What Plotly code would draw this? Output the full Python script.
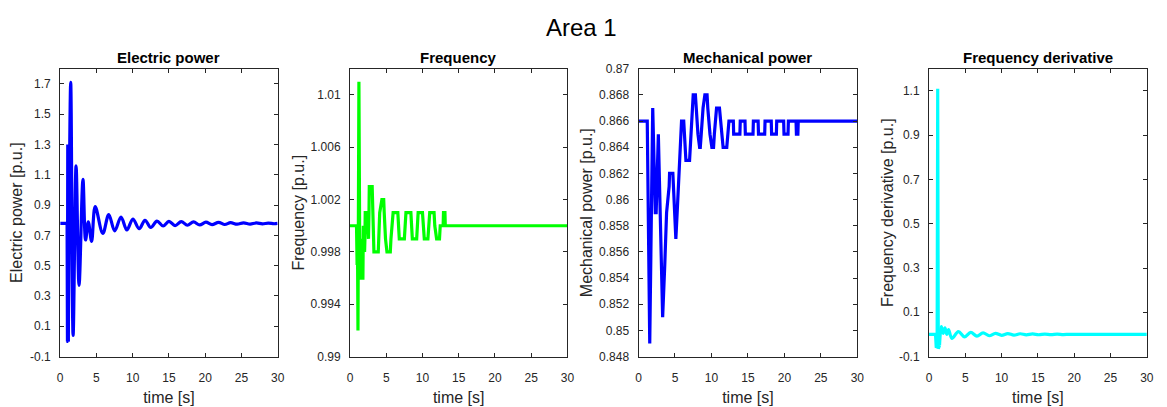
import plotly.graph_objects as go

# ---- simulation traces (time in seconds, values in p.u.) ----
ep_t = [0, 0.95, 1.0, 1.04, 1.08, 1.12,
        1.45, 1.78, 2.19, 2.6, 3.14, 3.5, 3.87, 4.33, 4.83, 5.88, 6.7, 7.52,
        8.39, 9.2, 10.03, 10.9, 11.7, 12.5, 13.35, 14.2, 15.0, 15.85, 16.7,
        17.55, 18.4, 19.25, 20.1, 20.95, 21.85, 22.7, 23.5, 24.4, 25.3, 26.2,
        27.05, 27.9, 28.7, 29.5, 30]
ep_p = [0.78, 0.78, 0.0, 1.30, 0.0, 0.0,
        1.71, 0.04, 1.16, 0.37, 1.07, 0.67, 0.79, 0.66, 0.89, 0.713, 0.838, 0.73,
        0.821, 0.736, 0.808, 0.744, 0.800, 0.752, 0.794, 0.762, 0.793, 0.765, 0.791,
        0.767, 0.789, 0.769, 0.787, 0.771, 0.786, 0.772, 0.784, 0.774, 0.783, 0.775,
        0.782, 0.776, 0.781, 0.777, 0.779]

fr_t = [0, 0.9, 0.98, 1.02, 1.1, 1.23, 1.36, 1.42, 1.48, 1.78, 1.84, 1.92, 2.01,
        2.06, 2.1, 2.37, 2.45, 2.55, 2.62, 2.66, 3.06, 3.12, 3.16, 3.2, 3.24, 3.3,
        3.9, 3.96, 4.02, 4.1, 4.4, 4.65, 4.72, 4.8, 4.9, 5.1, 5.56, 5.65, 5.8, 5.95,
        6.6, 6.7, 6.8, 7.5, 7.6, 7.72, 8.4, 8.5, 8.6, 9.2, 9.3, 9.4, 10.0, 10.1,
        10.25, 10.75, 10.85, 11.0, 11.6, 11.7, 11.95, 12.35, 12.45, 12.85, 12.9,
        13.1, 13.15, 30]
fr_v = [1.0, 1.0, 0.997, 1.0, 0.992, 1.011, 0.996, 0.999, 0.996, 0.996, 1.0, 0.998, 0.998,
        0.999, 1.001, 1.001, 0.999, 0.999, 1.001, 1.003, 1.003, 1.002, 1.001, 1.0, 0.999, 0.998,
        0.998, 0.999, 1.0, 1.001, 1.002, 1.002, 1.001, 1.0, 0.999, 0.998, 0.998, 0.999, 1.0, 1.001,
        1.001, 1.0, 0.999, 0.999, 1.0, 1.001, 1.001, 1.0, 0.999, 0.999, 1.0, 1.001, 1.001, 1.0,
        0.999, 0.999, 1.0, 1.001, 1.001, 1.0, 0.999, 0.999, 1.0, 1.0, 1.001,
        1.001, 1.0, 1.0]

mp_t = [0, 1.2, 1.54, 1.95, 2.3, 2.42, 2.72, 3.31, 3.6, 3.85, 4.2, 4.26, 4.71, 4.8,
        4.95, 5.05, 5.12, 5.3, 5.45, 5.6, 5.75, 5.9, 6.2, 6.3, 6.4, 6.5, 7.0, 7.1,
        7.2, 7.3, 7.4, 7.5, 7.8, 7.9, 8.0, 8.15, 8.38, 8.47, 8.6, 8.7, 8.85, 9.1,
        9.4, 9.5, 9.65, 9.8, 10.06, 10.29, 10.4, 10.55, 10.7, 11.1, 11.25, 11.4, 11.6,
        12.1, 12.2, 12.4, 13.0, 13.05, 13.9, 13.95, 14.6, 14.65, 15.7, 15.75, 16.4,
        16.45, 17.3, 17.35, 18.2, 18.25, 18.9, 18.95, 19.9, 19.95, 20.5, 20.55, 21.6,
        21.65, 21.85, 21.9, 30]
mp_v = [0.866, 0.866, 0.849, 0.867, 0.859, 0.859, 0.865, 0.851, 0.855, 0.859, 0.861, 0.862, 0.862, 0.861,
        0.859, 0.858, 0.857, 0.859, 0.861, 0.863, 0.865, 0.866, 0.866, 0.865, 0.864, 0.863, 0.863, 0.864,
        0.865, 0.866, 0.867, 0.868, 0.868, 0.867, 0.866, 0.865, 0.864, 0.864, 0.865, 0.866, 0.867, 0.868,
        0.868, 0.867, 0.866, 0.865, 0.864, 0.864, 0.865, 0.866, 0.867, 0.867, 0.866, 0.865, 0.864,
        0.864, 0.865, 0.866, 0.866, 0.865, 0.865, 0.866, 0.866, 0.865, 0.865, 0.866, 0.866,
        0.865, 0.865, 0.866, 0.866, 0.865, 0.865, 0.866, 0.866, 0.865, 0.865, 0.866, 0.866,
        0.865, 0.865, 0.866, 0.866]

fd_t = [0, 0.9, 1.0, 1.12, 1.2, 1.28, 1.45,
        1.7, 1.95, 2.2, 2.45, 2.7, 3.15, 4.05, 4.9, 5.75, 6.6, 7.45, 8.3, 9.15,
        10.0, 10.85, 11.7, 12.55, 13.4, 14.25, 15.1, 15.95, 16.8, 17.65, 18.5,
        19.35, 20.2, 30]
fd_v = [0.0, 0.0, -0.06, -0.055, 1.11, -0.065, -0.05,
        0.035, 0.005, 0.03, 0.0, 0.022, -0.018, 0.013, -0.011, 0.009, -0.008, 0.007, -0.006, 0.005,
        -0.004, 0.004, -0.003, 0.003, -0.002, 0.002, -0.0015, 0.0015, -0.001, 0.001, -0.0008,
        0.0006, 0.0, 0.0]

titles = ["Electric power", "Frequency", "Mechanical power", "Frequency derivative"]
ylabels = ["Electric power [p.u.]", "Frequency [p.u.]", "Mechanical power [p.u.]",
           "Frequency derivative [p.u.]"]
x_ticks = [0, 5, 10, 15, 20, 25, 30]
ep_ticks = [-0.1, 0.1, 0.3, 0.5, 0.7, 0.9, 1.1, 1.3, 1.5, 1.7]
fr_ticks = [0.99, 0.994, 0.998, 1.002, 1.006, 1.01]
mp_ticks = [0.848, 0.85, 0.852, 0.854, 0.856, 0.858, 0.86, 0.862, 0.864, 0.866, 0.868, 0.87]
fd_ticks = [-0.1, 0.1, 0.3, 0.5, 0.7, 0.9, 1.1]

W, H = 1167, 407
FONT = "Liberation Sans, Arial, Helvetica, sans-serif"
TXT = "#262626"
LW = 3.2

fig = go.Figure()

def add(idx, t, v, color, smooth_from=None):
    xa = "x" if idx == 1 else f"x{idx}"
    ya = "y" if idx == 1 else f"y{idx}"
    if smooth_from is None:
        fig.add_trace(go.Scatter(x=t, y=v, mode="lines", xaxis=xa, yaxis=ya,
                                 line=dict(color=color, width=LW),
                                 showlegend=False, hoverinfo="skip"))
    else:
        k = smooth_from
        fig.add_trace(go.Scatter(x=t[:k + 1], y=v[:k + 1], mode="lines", xaxis=xa, yaxis=ya,
                                 line=dict(color=color, width=LW), showlegend=False,
                                 hoverinfo="skip"))
        fig.add_trace(go.Scatter(x=t[k:], y=v[k:], mode="lines", xaxis=xa, yaxis=ya,
                                 line=dict(color=color, width=LW, shape="spline", smoothing=1.0),
                                 showlegend=False, hoverinfo="skip"))

add(1, ep_t, ep_p, "#0000FF", smooth_from=5)
add(2, fr_t, fr_v, "#00FF00")
add(3, mp_t, mp_v, "#0000FF")
add(4, fd_t, fd_v, "#00FFFF", smooth_from=6)

# axes frames in pixels
x_px = [(57.7, 277.0), (350.0, 569.3), (641.0, 861.7), (934.0, 1153.7)]
y_top, y_bot = 64.0, 362.0
y_ranges = [[-0.1, 1.8], [0.99, 1.012], [0.848, 0.87], [-0.1, 1.2]]
y_ticks = [ep_ticks, fr_ticks, mp_ticks, fd_ticks]
y_standoff = [3, 1, 2, 1]

common = dict(showline=True, linecolor=TXT, linewidth=1, mirror="allticks",
              ticks="inside", ticklen=4, tickwidth=1, tickcolor=TXT,
              showgrid=False, zeroline=False,
              tickfont=dict(family=FONT, size=12, color=TXT))

layout = dict(width=W, height=H, margin=dict(l=0, r=0, t=0, b=0),
              paper_bgcolor="white", plot_bgcolor="white", showlegend=False)

for i in range(4):
    sfx = "" if i == 0 else str(i + 1)
    x0, x1 = x_px[i]
    layout["xaxis" + sfx] = dict(common, domain=[x0 / W, x1 / W], range=[0, 30],
                                  tickvals=x_ticks, anchor="y" + sfx, ticklabelstandoff=10,
                                  title=dict(text="time [s]", standoff=7,
                                             font=dict(family=FONT, size=16, color=TXT)))
    layout["yaxis" + sfx] = dict(common, domain=[1 - y_bot / H, 1 - y_top / H],
                                  range=y_ranges[i], tickvals=y_ticks[i],
                                  ticktext=[f"{v:g}" for v in y_ticks[i]],
                                  anchor="x" + sfx, ticklabelstandoff=6,
                                  title=dict(text=ylabels[i], standoff=y_standoff[i],
                                             font=dict(family=FONT, size=16, color=TXT)))

annotations = []
for i in range(4):
    x0, x1 = x_px[i]
    annotations.append(dict(text=f"<b>{titles[i]}</b>", x=(x0 + x1) / 2 / W, y=1 - 52 / H,
                            xref="paper", yref="paper", showarrow=False,
                            xanchor="center", yanchor="middle",
                            font=dict(family=FONT, size=15, color="black")))
annotations.append(dict(text="Area 1", x=584 / W, y=1 - 21 / H, xref="paper", yref="paper",
                        showarrow=False, xanchor="center", yanchor="middle",
                        font=dict(family=FONT, size=24, color="black")))
layout["annotations"] = annotations

fig.update_layout(**layout)
fig.write_html("out.html")
